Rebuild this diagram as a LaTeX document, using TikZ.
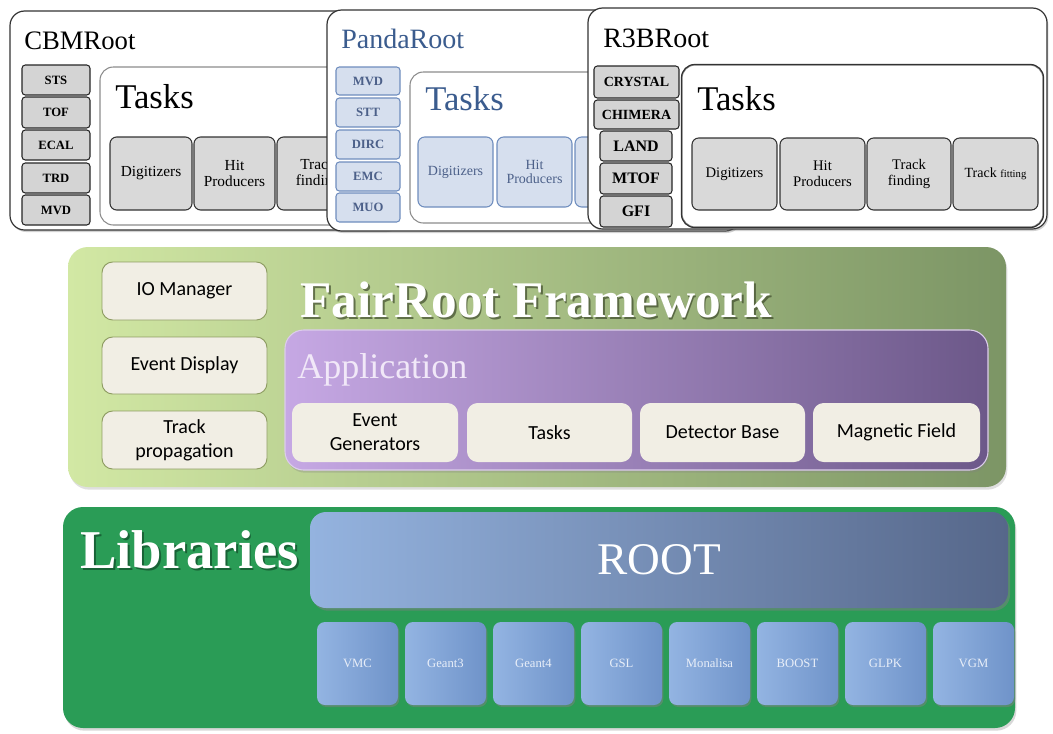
\documentclass[tikz,border=0pt]{standalone}
\usepackage{fontspec}
\setmainfont{Liberation Serif}
\newfontfamily\sansf{Carlito}
\usetikzlibrary{shadows}
\definecolor{pbord}{HTML}{6F8DBE}
\definecolor{pfill}{HTML}{D6DFEE}
\definecolor{ptext}{HTML}{4C6089}
\definecolor{ptitle}{HTML}{3B5C8E}
\definecolor{frl}{HTML}{D2E8A4}
\definecolor{frr}{HTML}{7C9565}
\definecolor{frbox}{HTML}{F1EEE4}
\definecolor{frbord}{HTML}{8E9C62}
\definecolor{frshadow}{HTML}{3E4A2C}
\definecolor{apl}{HTML}{C6A8E4}
\definecolor{apr}{HTML}{6C5889}
\definecolor{apbord}{HTML}{DCCDEB}
\definecolor{aptext}{HTML}{F1E8F8}
\definecolor{libg}{HTML}{2A9C56}
\definecolor{libshadow}{HTML}{13502C}
\definecolor{rootl}{HTML}{94B3DF}
\definecolor{rootr}{HTML}{56678A}
\definecolor{lbl}{HTML}{93B4E2}
\definecolor{lbr}{HTML}{6F93C9}
\definecolor{lbtext}{HTML}{E8EEF8}
\newcommand\fs[2]{\fontsize{#1}{#2}\selectfont}
\newcommand\bx[7]{\node[#1, minimum width={(#5-#3)*0.75pt}, minimum height={(#6-#4)*0.75pt}, inner sep=0pt] (#2) at ({(#3+#5)/2},{(#4+#6)/2}) {#7};}
\begin{document}
\begin{tikzpicture}[x=0.75pt,y=-0.75pt,
  panel/.style={draw=black!80, line width=0.9pt, fill=white, rounded corners=11pt,
    drop shadow={opacity=0.35,shadow xshift=1pt,shadow yshift=-1.5pt}},
  det/.style={draw=black!85, line width=0.8pt, fill=black!17, rounded corners=2.5pt, font=\bfseries\fs{9.5}{10}},
  rdet/.style={det, font=\bfseries\fs{12}{12}},
  tbox/.style={draw=black!45, line width=0.8pt, fill=white, rounded corners=10pt},
  subbox/.style={draw=black!80, line width=0.8pt, fill=black!15, rounded corners=5pt, align=center, font=\fs{11.5}{12}},
  pdet/.style={det, draw=pbord, fill=pfill, text=ptext},
  psub/.style={subbox, draw=pbord, fill=pfill, text=ptext, font=\fs{10.5}{11}},
  rsub/.style={subbox, font=\fs{11}{12}},
  title/.style={anchor=base west, inner sep=0pt},
  frpanel/.style={left color=frl, right color=frr, rounded corners=15pt,
    drop shadow={opacity=0.25,shadow xshift=1pt,shadow yshift=-2pt}},
  frb/.style={draw=frbord, line width=0.7pt, fill=frbox, rounded corners=8pt, align=center, font=\sansf\fs{15}{18}},
  app/.style={left color=apl, right color=apr, draw=apbord, line width=0.8pt, rounded corners=14pt,
    drop shadow={opacity=0.3,shadow xshift=1pt,shadow yshift=-2pt}},
  apb/.style={fill=frbox, rounded corners=8pt, align=center, font=\sansf\fs{15}{18}},
  libpanel/.style={fill=libg, rounded corners=15pt,
    drop shadow={opacity=0.3,shadow xshift=1pt,shadow yshift=-2pt}},
  rootbox/.style={left color=rootl, right color=rootr, rounded corners=12pt, text=white, font=\fs{34}{36},
    drop shadow={opacity=0.5,shadow xshift=1.5pt,shadow yshift=-2pt}},
  lbox/.style={left color=lbl, right color=lbr, rounded corners=6pt, text=lbtext, font=\fs{9.5}{10},
    drop shadow={opacity=0.5,shadow xshift=1pt,shadow yshift=-1.5pt}},
  frtitle/.style={title, font=\bfseries\fs{38.5}{42}},
  frsh/.style={frtitle, text=frshadow, opacity=0.7},
  libtitle/.style={title, font=\bfseries\fs{41}{44}},
  libsh/.style={libtitle, text=libshadow, opacity=0.75}]
\useasboundingbox[fill=white] (0,0) rectangle (1053,733);

% ---------------- CBMRoot
\bx{panel}{cbm}{10}{11}{400}{230}{}
\node[title, font=\fs{20}{24}] (cbmt) at (24,49) {CBMRoot};
\bx{det}{cbm1}{22}{65}{90}{95}{STS}
\bx{det}{cbm2}{22}{97}{90}{128}{TOF}
\bx{det}{cbm3}{22}{130}{90}{160}{ECAL}
\bx{det}{cbm4}{22}{163}{90}{193}{TRD}
\bx{det}{cbm5}{22}{195}{90}{225}{MVD}
\bx{tbox}{cbmtask}{100}{67}{380}{225}{}
\node[title, font=\fs{26}{28}] (cbmtt) at (115,108) {Tasks};
\bx{subbox}{cbms1}{110}{137}{192}{210}{Digitizers}
\bx{subbox}{cbms2}{194}{137}{275}{210}{Hit\\Producers}
\bx{subbox}{cbms3}{277}{137}{359}{210}{Track\\finding}

% ---------------- PandaRoot
\bx{panel}{panda}{327}{10}{740}{231}{}
\node[title, font=\fs{21}{24}, text=ptitle] (pandat) at (341,48) {PandaRoot};
\bx{pdet}{pd1}{336}{67}{400}{95}{MVD}
\bx{pdet}{pd2}{336}{98}{400}{127}{STT}
\bx{pdet}{pd3}{336}{130}{400}{159}{DIRC}
\bx{pdet}{pd4}{336}{162}{400}{191}{EMC}
\bx{pdet}{pd5}{336}{193}{400}{222}{MUO}
\bx{tbox}{pandatask}{410}{72}{700}{223}{}
\node[title, font=\fs{26}{28}, text=ptitle] (pandatt) at (425,110) {Tasks};
\bx{psub}{ps1}{418}{137}{493}{207}{Digitizers}
\bx{psub}{ps2}{497}{137}{572}{207}{Hit\\Producers}
\bx{psub}{ps3}{575}{137}{652}{207}{}

% ---------------- R3BRoot
\bx{panel}{r3b}{588}{8}{1047}{229}{}
\node[title, font=\fs{21}{24}] (r3bt) at (603,47) {R3BRoot};
\bx{det}{rd1}{594}{66}{679}{98}{\fs{10.5}{11}CRYSTAL}
\bx{det}{rd2}{594}{100}{679}{129}{\fs{10.5}{11}CHIMERA}
\bx{rdet}{rd3}{600}{131}{672}{161}{LAND}
\bx{rdet}{rd4}{600}{163}{672}{194}{MTOF}
\bx{rdet}{rd5}{600}{196}{672}{227}{GFI}
\bx{tbox}{r3btask}{682}{65}{1043}{227}{}
\draw[black!80, line width=0.9pt, rounded corners=10pt] (r3btask.north west) rectangle (r3btask.south east);
\node[title, font=\fs{26}{28}] (r3btt) at (697,110) {Tasks};
\bx{rsub}{rs1}{692}{138}{777}{210}{Digitizers}
\bx{rsub}{rs2}{780}{138}{865}{210}{Hit\\Producers}
\bx{rsub}{rs3}{867}{138}{951}{210}{Track\\finding}
\bx{rsub}{rs4}{953}{138}{1038}{210}{\fs{10.5}{11}Track {\fs{8}{9}fitting}}

% ---------------- FairRoot Framework
\bx{frpanel}{fr}{68}{247}{1006}{487}{}
\bx{frb}{io}{102}{262}{267}{320}{IO Manager}
\bx{frb}{ed}{102}{337}{267}{394}{Event Display}
\bx{frb}{tp}{102}{411}{267}{469}{Track\\propagation}
\node[frsh] (frs) at (301.8,319) {FairRoot Framework};
\node[frtitle, text=white] (frt) at (300,317) {FairRoot Framework};
\bx{app}{appl}{285}{330}{988}{470}{}
\node[title, font=\fs{27}{30}, text=aptext] (appt) at (297,378) {Application};
\bx{apb}{ap1}{292}{403}{458}{462}{Event\\Generators}
\bx{apb}{ap2}{467}{403}{632}{462}{Tasks}
\bx{apb}{ap3}{640}{403}{805}{462}{Detector Base}
\bx{apb}{ap4}{813}{403}{980}{462}{Magnetic Field}

% ---------------- Libraries
\bx{libpanel}{lib}{63}{507}{1015}{728}{}
\node[libsh] (libs) at (81.8,570) {Libraries};
\node[libtitle, text=white] (libt) at (80,568) {Libraries};
\bx{rootbox}{root}{310}{512}{1008}{608}{ROOT}
\bx{lbox}{l1}{317}{622}{398}{705}{VMC}
\bx{lbox}{l2}{405}{622}{486}{705}{Geant3}
\bx{lbox}{l3}{493}{622}{574}{705}{Geant4}
\bx{lbox}{l4}{581}{622}{662}{705}{GSL}
\bx{lbox}{l5}{669}{622}{750}{705}{Monalisa}
\bx{lbox}{l6}{757}{622}{838}{705}{BOOST}
\bx{lbox}{l7}{845}{622}{926}{705}{GLPK}
\bx{lbox}{l8}{933}{622}{1014}{705}{VGM}
\end{tikzpicture}
\end{document}
